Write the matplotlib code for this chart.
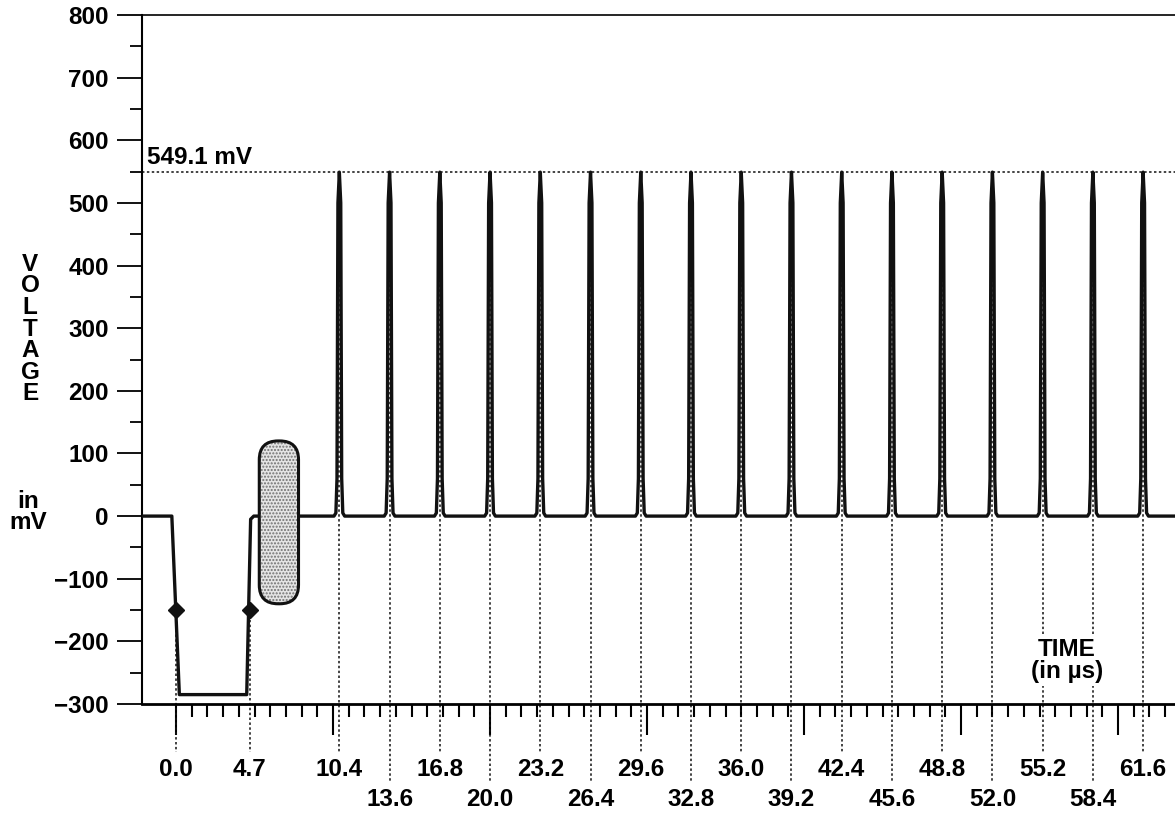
import matplotlib.pyplot as plt
from matplotlib.patches import FancyBboxPatch

plt.rcParams['font.family'] = ['Liberation Sans', 'DejaVu Sans']
plt.rcParams['font.weight'] = 'bold'
plt.rcParams['font.size'] = 17.5

# waveform before the spike train (time in us, voltage in mV)
lead_t = [-2.2, -0.27, 0.21, 4.5, 4.75, 4.95]
lead_mv = [0, 0, -285, -285, -5, 0]

# points marked on the negative pulse
marker_t = [0.0, 4.7]
marker_mv = [-150, -150]

# spike train
peak_mv = 549.1
spike_t = [10.4, 13.6, 16.8, 20.0, 23.2, 26.4, 29.6, 32.8, 36.0,
           39.2, 42.4, 45.6, 48.8, 52.0, 55.2, 58.4, 61.6]
spike_dt = [-0.34, -0.22, -0.15, -0.09, 0.0, 0.09, 0.15, 0.22, 0.34]
spike_mv = [0, 5, 60, 500, peak_mv, 500, 60, 5, 0]
end_t = 63.8

# shaded block after the pulse
block_t = (5.3, 7.8)
block_mv = (-140, 120)

t = list(lead_t)
v = list(lead_mv)
for ts in spike_t:
    t += [ts + d for d in spike_dt]
    v += spike_mv
t.append(end_t)
v.append(0)

fig = plt.figure(figsize=(11.75, 8.16), dpi=100)
ax = fig.add_axes([142 / 1175, 1 - 704 / 816, 1 - 142 / 1175, 689 / 816])
ax.set_xlim(-2.17, 63.63)
ax.set_ylim(-300, 800)

ax.plot(t, v, color='#111111', lw=2.4, solid_joinstyle='round', zorder=3)
ax.plot(marker_t, marker_mv, 'D', color='#111111', ms=8, zorder=4)

# stippled block: fill + hatch first, then the outline
px_aspect = (1100 / 689) / (65.8 / 1033)
box = dict(boxstyle='round,pad=0,rounding_size=1.2', mutation_aspect=px_aspect)
ax.add_patch(FancyBboxPatch((block_t[0], block_mv[0]), block_t[1] - block_t[0],
                            block_mv[1] - block_mv[0], facecolor='#e4e4e4',
                            edgecolor='#707070', hatch='.....', lw=0, zorder=5, **box))
ax.add_patch(FancyBboxPatch((block_t[0], block_mv[0]), block_t[1] - block_t[0],
                            block_mv[1] - block_mv[0], fill=False,
                            edgecolor='#111111', lw=2.2, zorder=6, **box))

# peak level
dots = (0, (1.6, 1.6))
ax.axhline(peak_mv, color='#111111', lw=1.1, ls=dots, zorder=2)
ax.text(-1.85, 573, f'{peak_mv} mV', ha='left', va='center')

# dotted drop lines and time labels under the axis
upper_end, lower_end = -377, -425
upper_row, lower_row = -404, -452
for tm, mv in zip(marker_t, marker_mv):
    ax.plot([tm, tm], [mv, upper_end], color='#111111', lw=1.1, ls=dots,
            clip_on=False, zorder=2)
    ax.text(tm, upper_row, f'{tm:.1f}', ha='center', va='center', clip_on=False)
for k, ts in enumerate(spike_t):
    end = upper_end if k % 2 == 0 else lower_end
    row = upper_row if k % 2 == 0 else lower_row
    ax.plot([ts, ts], [peak_mv, end], color='#111111', lw=1.1, ls=dots,
            clip_on=False, zorder=2)
    ax.text(ts, row, f'{ts:.1f}', ha='center', va='center', clip_on=False)

ax.text(56.75, -231, 'TIME\n(in µs)', ha='center', va='center', linespacing=0.95,
        zorder=7, bbox=dict(facecolor='white', edgecolor='none', pad=2))

# axes
ax.set_yticks(range(-300, 801, 100))
ax.set_yticks(range(-250, 800, 100), minor=True)
ax.set_xticks(range(0, 61, 10))
ax.set_xticks([i for i in range(1, 64) if i % 10], minor=True)
ax.tick_params(axis='y', which='major', length=18, width=1.3, pad=6)
ax.tick_params(axis='y', which='minor', length=9, width=1.3)
ax.tick_params(axis='x', which='major', length=22, width=1.5, labelbottom=False)
ax.tick_params(axis='x', which='minor', length=9, width=1.5)
ax.spines['right'].set_visible(False)
ax.spines['left'].set_linewidth(1.5)
ax.spines['bottom'].set_linewidth(2)
ax.spines['top'].set_linewidth(1.2)

fig.text(30 / 1175, 1 - 329 / 816, 'V\nO\nL\nT\nA\nG\nE', ha='center', va='center',
         linespacing=0.92)
fig.text(28 / 1175, 1 - 512 / 816, 'in\nmV', ha='center', va='center',
         linespacing=0.85)

fig.savefig('out.png', dpi=100)
